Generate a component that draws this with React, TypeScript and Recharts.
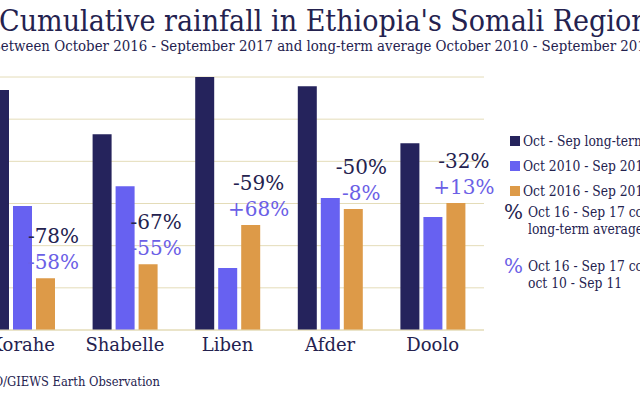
import { BarChart, Bar, XAxis, YAxis, CartesianGrid, LabelList } from "recharts";

const regions = ["Korahe", "Shabelle", "Liben", "Afder", "Doolo"];
const longTerm = [569, 464, 600, 578, 443];
const season2011 = [294, 341, 147, 313, 268];
const season2017 = [123, 156, 249, 287, 301];
const vsLongTerm = ["-78%", "-67%", "-59%", "-50%", "-32%"];
const vs2011 = ["-58%", "-55%", "+68%", "-8%", "+13%"];
const yTicks = [0, 100, 200, 300, 400, 500, 600];

const data = regions.map((r, i) => ({
  region: r,
  longTerm: longTerm[i],
  s2011: season2011[i],
  s2017: season2017[i],
  vsLong: vsLongTerm[i],
  vs11: vs2011[i],
}));

const FONT = "'DejaVu Serif', serif";
const NAVY = "#24224f";
const C_DARK = "#25235c";
const C_BLUE = "#6761f1";
const C_ORANGE = "#dd9a48";
const C_PURPLE = "#6b60e6";
const GRID = "#e4dcb8";

function PctLabel(props: any) {
  const { x, y, width, index } = props;
  const cx = Number(x) + Number(width) / 2 + 8;
  const top = Number(y);
  return (
    <g fontFamily={FONT} fontSize={20} textAnchor="middle">
      <text x={cx} y={top - 42} fill={NAVY} dominantBaseline="central">{vsLongTerm[index]}</text>
      <text x={cx} y={top - 16} fill={C_PURPLE} dominantBaseline="central">{vs2011[index]}</text>
    </g>
  );
}

const legendRows = [
  { color: C_DARK, text: "Oct - Sep long-term average" },
  { color: C_BLUE, text: "Oct 2010 - Sep 2011" },
  { color: C_ORANGE, text: "Oct 2016 - Sep 2017" },
];

const squeeze = (s: number, origin = "left center") => ({
  display: "inline-block",
  transform: `scaleX(${s})`,
  transformOrigin: origin,
});

export default function App() {
  return (
    <div style={{ position: "fixed", left: 0, top: 0, width: 640, height: 396, overflow: "hidden", background: "#fff", fontFamily: FONT, color: NAVY }}>
      <div style={{ position: "absolute", left: -1, top: 4, fontSize: 30, whiteSpace: "nowrap", lineHeight: "34px", ...squeeze(0.9) }}>
        Cumulative rainfall in Ethiopia's Somali Region
      </div>
      <div style={{ position: "absolute", left: -9, top: 37, fontSize: 15.2, whiteSpace: "nowrap", lineHeight: "18px", ...squeeze(0.88) }}>
        Between October 2016 - September 2017 and long-term average October 2010 - September 2017
      </div>

      <div style={{ position: "absolute", left: -29, top: 0 }}>
        <BarChart width={560} height={396} data={data} barSize={19} barGap={4}
          margin={{ top: 77, right: 47, bottom: 36, left: 0 }}>
          <CartesianGrid vertical={false} stroke={GRID} strokeWidth={1} />
          <YAxis hide domain={[0, 600]} ticks={yTicks} />
          <XAxis dataKey="region" height={30} axisLine={{ stroke: GRID }} tickLine={false}
            tick={{ fontSize: 18, fill: NAVY, fontFamily: FONT }} interval={0} />
          <Bar dataKey="longTerm" fill={C_DARK} isAnimationActive={false} />
          <Bar dataKey="s2011" fill={C_BLUE} isAnimationActive={false} />
          <Bar dataKey="s2017" fill={C_ORANGE} isAnimationActive={false}>
            <LabelList dataKey="vsLong" content={<PctLabel />} />
          </Bar>
        </BarChart>
      </div>

      <div style={{ position: "absolute", left: 510, top: 128, fontSize: 14, whiteSpace: "nowrap" }}>
        {legendRows.map((r) => (
          <div key={r.text} style={{ display: "flex", alignItems: "center", height: 25 }}>
            <span style={{ width: 10, height: 10, background: r.color, marginRight: 3, display: "inline-block", flex: "none" }} />
            <span style={squeeze(0.88)}>{r.text}</span>
          </div>
        ))}
      </div>
      <div style={{ position: "absolute", left: 504, top: 204, fontSize: 14, whiteSpace: "nowrap", lineHeight: "17px", display: "flex" }}>
        <span style={{ fontSize: 20, width: 24, color: NAVY, flex: "none" }}>%</span>
        <span style={squeeze(0.88)}>Oct 16 - Sep 17 compared to<br />long-term average</span>
      </div>
      <div style={{ position: "absolute", left: 504, top: 258, fontSize: 14, whiteSpace: "nowrap", lineHeight: "17px", display: "flex" }}>
        <span style={{ fontSize: 20, width: 24, color: C_PURPLE, flex: "none" }}>%</span>
        <span style={squeeze(0.88)}>Oct 16 - Sep 17 compared to<br />oct 10 - Sep 11</span>
      </div>

      <div style={{ position: "absolute", right: 480, top: 374, fontSize: 12.5, whiteSpace: "nowrap", ...squeeze(0.92, "right center") }}>
        Source: FAO/GIEWS Earth Observation
      </div>
    </div>
  );
}
